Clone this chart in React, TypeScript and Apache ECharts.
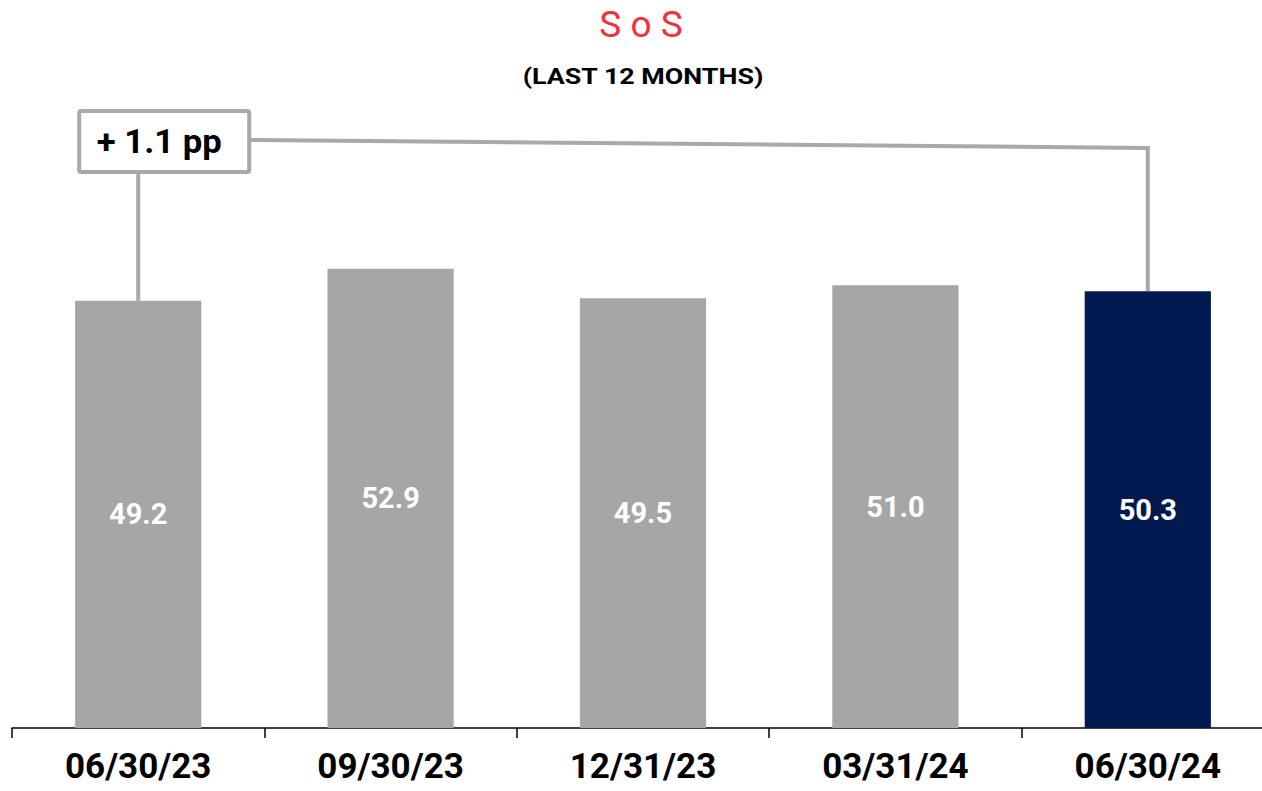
import React, { useEffect, useRef } from "react";
import * as echarts from "echarts";

const categories = ["06/30/23", "09/30/23", "12/31/23", "03/31/24", "06/30/24"];
const values = [49.2, 52.9, 49.5, 51.0, 50.3];
const barColors = ["#a6a6a6", "#a6a6a6", "#a6a6a6", "#a6a6a6", "#00194f"];
const deltaLabel = "+ 1.1 pp";
const titleText = "S o S";
const subtitleText = "(LAST 12 MONTHS)";

export default function App() {
  const ref = useRef<HTMLDivElement>(null);
  useEffect(() => {
    document.body.style.margin = "0";
    const chart = echarts.init(ref.current!, null, { renderer: "svg" });
    const font = "Roboto, 'Noto Sans', sans-serif";
    chart.setOption({
      animation: false,
      backgroundColor: "#ffffff",
      grid: { left: 12, right: 0, top: 207, bottom: 63, containLabel: false },
      xAxis: {
        type: "category",
        data: categories,
        axisLine: { lineStyle: { color: "#000", width: 1.5 } },
        axisTick: { show: true, length: 10, lineStyle: { color: "#000", width: 1.5 } },
        axisLabel: {
          color: "#000",
          fontSize: 35,
          fontWeight: "bold",
          fontFamily: font,
          margin: 21,
        },
      },
      yAxis: { type: "value", min: 0, max: 60, show: false, splitLine: { show: false } },
      series: [
        {
          type: "bar",
          barWidth: "50%",
          data: values.map((v, i) => ({ value: v, itemStyle: { color: barColors[i] } })),
          label: {
            show: true,
            position: "inside",
            color: "#fff",
            fontSize: 29,
            fontWeight: "bold",
            fontFamily: font,
            formatter: (p: any) => Number(p.value).toFixed(1),
          },
        },
      ],
    });

    const p0 = chart.convertToPixel({ gridIndex: 0 }, [0, values[0]]) as number[];
    const p4 = chart.convertToPixel({ gridIndex: 0 }, [values.length - 1, values[values.length - 1]]) as number[];
    const lineColor = "#a9a9a9";
    const boxLeft = p0[0] - 59;
    const boxTop = 111;
    const boxW = 170;
    const boxH = 61;
    chart.setOption({
      graphic: [
        {
          type: "text",
          x: 641,
          y: 24,
          style: {
            text: titleText,
            fill: "#f2303c",
            font: `normal 37px ${font}`,
            align: "center",
            verticalAlign: "middle",
          },
        },
        {
          type: "text",
          x: 643,
          y: 76,
          scaleX: 1.22,
          style: {
            text: subtitleText,
            fill: "#000",
            font: `bold 22px ${font}`,
            align: "center",
            verticalAlign: "middle",
          },
        },
        {
          type: "line",
          shape: { x1: p0[0], y1: boxTop + boxH, x2: p0[0], y2: p0[1] },
          style: { stroke: lineColor, lineWidth: 4 },
        },
        {
          type: "polyline",
          shape: {
            points: [
              [boxLeft + boxW, 140],
              [p4[0], 148],
              [p4[0], p4[1]],
            ],
          },
          style: { stroke: lineColor, lineWidth: 4, fill: "none" },
        },
        {
          type: "rect",
          shape: { x: boxLeft, y: boxTop, width: boxW, height: boxH, r: 2 },
          style: { fill: "#fff", stroke: lineColor, lineWidth: 4 },
        },
        {
          type: "text",
          x: boxLeft + boxW / 2 - 5,
          y: boxTop + boxH / 2,
          scaleX: 1.05,
          style: {
            text: deltaLabel,
            fill: "#000",
            font: `bold 33px ${font}`,
            align: "center",
            verticalAlign: "middle",
          },
        },
      ],
    });
    return () => chart.dispose();
  }, []);
  return (
    <div style={{ width: 1262, height: 791, overflow: "hidden" }}>
      <div ref={ref} style={{ width: 1274, height: 791 }} />
    </div>
  );
}
